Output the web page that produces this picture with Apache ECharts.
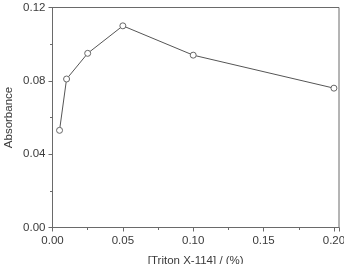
<!DOCTYPE html>
<html>
<head>
<meta charset="utf-8">
<script src="https://cdn.jsdelivr.net/npm/echarts@6/dist/echarts.min.js"></script>
<style>
  html, body { margin: 0; padding: 0; background: #fff; }
  #chart { width: 344px; height: 264px; }
</style>
</head>
<body>
<div id="chart"></div>
<script>
// Triton X-114 concentration (%) vs absorbance
var concentration = [0.005, 0.01, 0.025, 0.05, 0.10, 0.20];
var absorbance = [0.053, 0.081, 0.095, 0.110, 0.094, 0.076];

var xTitle = '[Triton X-114] / (%)';
var yTitle = 'Absorbance';

var points = concentration.map(function (c, i) { return [c, absorbance[i]]; });

var font = 'Liberation Sans, Arial, sans-serif';
var axisColor = '#6a6a6a';
var textColor = '#3a3a3a';

var myChart = echarts.init(document.getElementById('chart'));

var option = {
  animation: false,
  grid: {
    left: 52.5,
    right: 5,
    top: 7.5,
    bottom: 36.5,
    outerBoundsMode: 'none',
    containLabel: false,
    show: true,
    borderColor: axisColor,
    borderWidth: 1,
    backgroundColor: 'transparent'
  },
  xAxis: {
    type: 'value',
    min: 0,
    max: 0.2036,
    interval: 0.05,
    name: xTitle,
    nameLocation: 'middle',
    nameGap: 27,
    nameMoveOverlap: false,
    nameTextStyle: { fontFamily: font, fontSize: 11.5, color: textColor },
    axisLine: { show: true, lineStyle: { color: axisColor, width: 1 } },
    axisTick: { show: true, inside: false, length: 4, lineStyle: { color: axisColor } },
    minorTick: { show: true, splitNumber: 2, length: 2.5, lineStyle: { color: axisColor } },
    splitLine: { show: false },
    axisLabel: {
      fontFamily: font,
      fontSize: 11.5,
      color: textColor,
      margin: 7,
      showMaxLabel: false,
      formatter: function (v) {
        var k = v / 0.05;
        return Math.abs(k - Math.round(k)) < 1e-6 ? v.toFixed(2) : '';
      }
    }
  },
  yAxis: {
    type: 'value',
    min: 0,
    max: 0.12,
    interval: 0.04,
    name: yTitle,
    nameLocation: 'middle',
    nameGap: 38,
    nameMoveOverlap: false,
    nameTextStyle: { fontFamily: font, fontSize: 11.5, color: textColor },
    axisLine: { show: true, lineStyle: { color: axisColor, width: 1 } },
    axisTick: { show: true, inside: false, length: 4, lineStyle: { color: axisColor } },
    minorTick: { show: true, splitNumber: 2, length: 2.5, lineStyle: { color: axisColor } },
    splitLine: { show: false },
    axisLabel: {
      fontFamily: font,
      fontSize: 11.5,
      color: textColor,
      margin: 7,
      formatter: function (v) { return v.toFixed(2); }
    }
  },
  series: [
    {
      type: 'line',
      data: points,
      symbol: 'circle',
      symbolSize: 6,
      lineStyle: { color: '#555555', width: 1 },
      itemStyle: { color: '#ffffff', borderColor: '#666666', borderWidth: 1 }
    }
  ]
};

myChart.setOption(option);
</script>
</body>
</html>
